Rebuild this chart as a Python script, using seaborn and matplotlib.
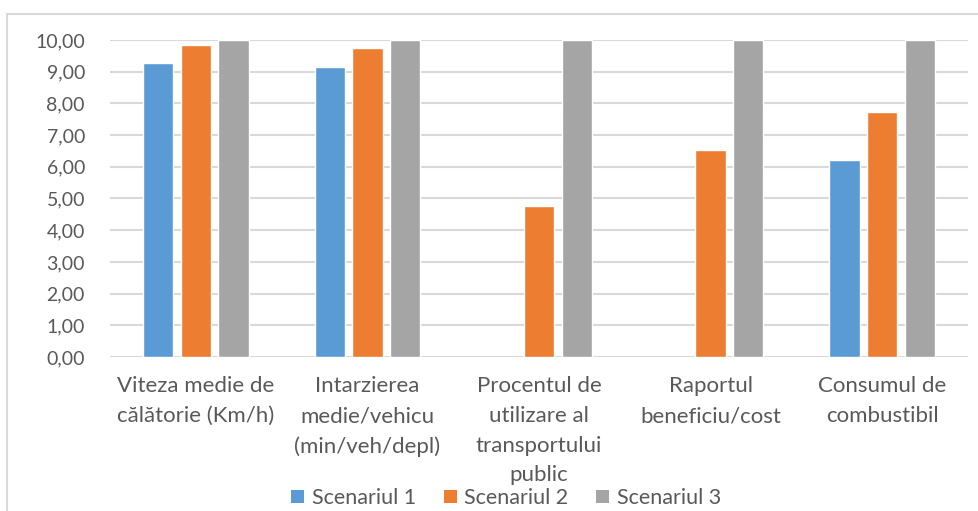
import numpy as np
import pandas as pd
import matplotlib
matplotlib.use("Agg")
import matplotlib.pyplot as plt
from matplotlib.patches import Patch, Rectangle
import seaborn as sns

# Indicator categories (wrapped the way they are shown under the axis)
categories = [
    "Viteza medie de\ncălătorie (Km/h)",
    "Intarzierea\nmedie/vehicu\n(min/veh/depl)",
    "Procentul de\nutilizare al\ntransportului\npublic",
    "Raportul\nbeneficiu/cost",
    "Consumul de\ncombustibil",
]
scenarios = ["Scenariul 1", "Scenariul 2", "Scenariul 3"]

scenariul_1 = [9.27, 9.15, np.nan, np.nan, 6.20]
scenariul_2 = [9.84, 9.75, 4.75, 6.53, 7.73]
scenariul_3 = [10.00, 10.00, 10.00, 10.00, 10.00]

y_ticks = [0, 1, 2, 3, 4, 5, 6, 7, 8, 9, 10]

colors = ["#5B9BD5", "#ED7D31", "#A5A5A5"]
text_color = "#595959"
grid_color = "#D9D9D9"

df = pd.DataFrame({
    "categorie": categories * 3,
    "scenariu": [s for s in scenarios for _ in categories],
    "valoare": scenariul_1 + scenariul_2 + scenariul_3,
})

sns.set_theme(style="white")
plt.rcParams["font.family"] = ["Lato", "DejaVu Sans"]

W, H = 979, 511
fig = plt.figure(figsize=(W / 100, H / 100), dpi=100)
ax = fig.add_axes([110 / W, 1 - 357 / H, (968 - 110) / W, (357 - 40) / H])

sns.barplot(
    data=df, x="categorie", y="valoare", hue="scenariu",
    order=categories, hue_order=scenarios, palette=colors,
    width=0.66, gap=0.2, errorbar=None, legend=False, ax=ax,
    saturation=1, zorder=3,
)

ax.set_ylim(0, 10)
ax.set_xlim(-0.5, len(categories) - 0.5)
ax.set_yticks(y_ticks)
ax.set_yticklabels([f"{v:.2f}".replace(".", ",") for v in y_ticks])
ax.yaxis.grid(True, color=grid_color, linewidth=1.5, zorder=0)
ax.set_axisbelow(True)
for s in ax.spines.values():
    s.set_visible(False)
ax.set_xlabel("")
ax.set_ylabel("")
ax.tick_params(axis="y", length=0, pad=18, labelsize=14, labelcolor=text_color)
ax.tick_params(axis="x", length=0, pad=14, labelsize=16, labelcolor=text_color)
for lab in ax.get_xticklabels():
    lab.set_linespacing(1.6)
    lab.set_verticalalignment("top")

# chart frame
fig.patches.append(Rectangle((7 / W, -0.1), 1.2, 1 - 14 / H + 0.1,
                             transform=fig.transFigure, fill=False,
                             edgecolor="#D9D9D9", linewidth=1.5))

handles = [Patch(facecolor=c, edgecolor="none") for c in colors]
fig.legend(handles, scenarios, loc="center", bbox_to_anchor=(506 / W, 1 - 498 / H),
           ncol=3, frameon=False, fontsize=15.5, labelcolor=text_color,
           handlelength=0.6, handleheight=0.6, handletextpad=0.35,
           columnspacing=1.3, borderpad=0)

fig.savefig("out.png", dpi=100)
